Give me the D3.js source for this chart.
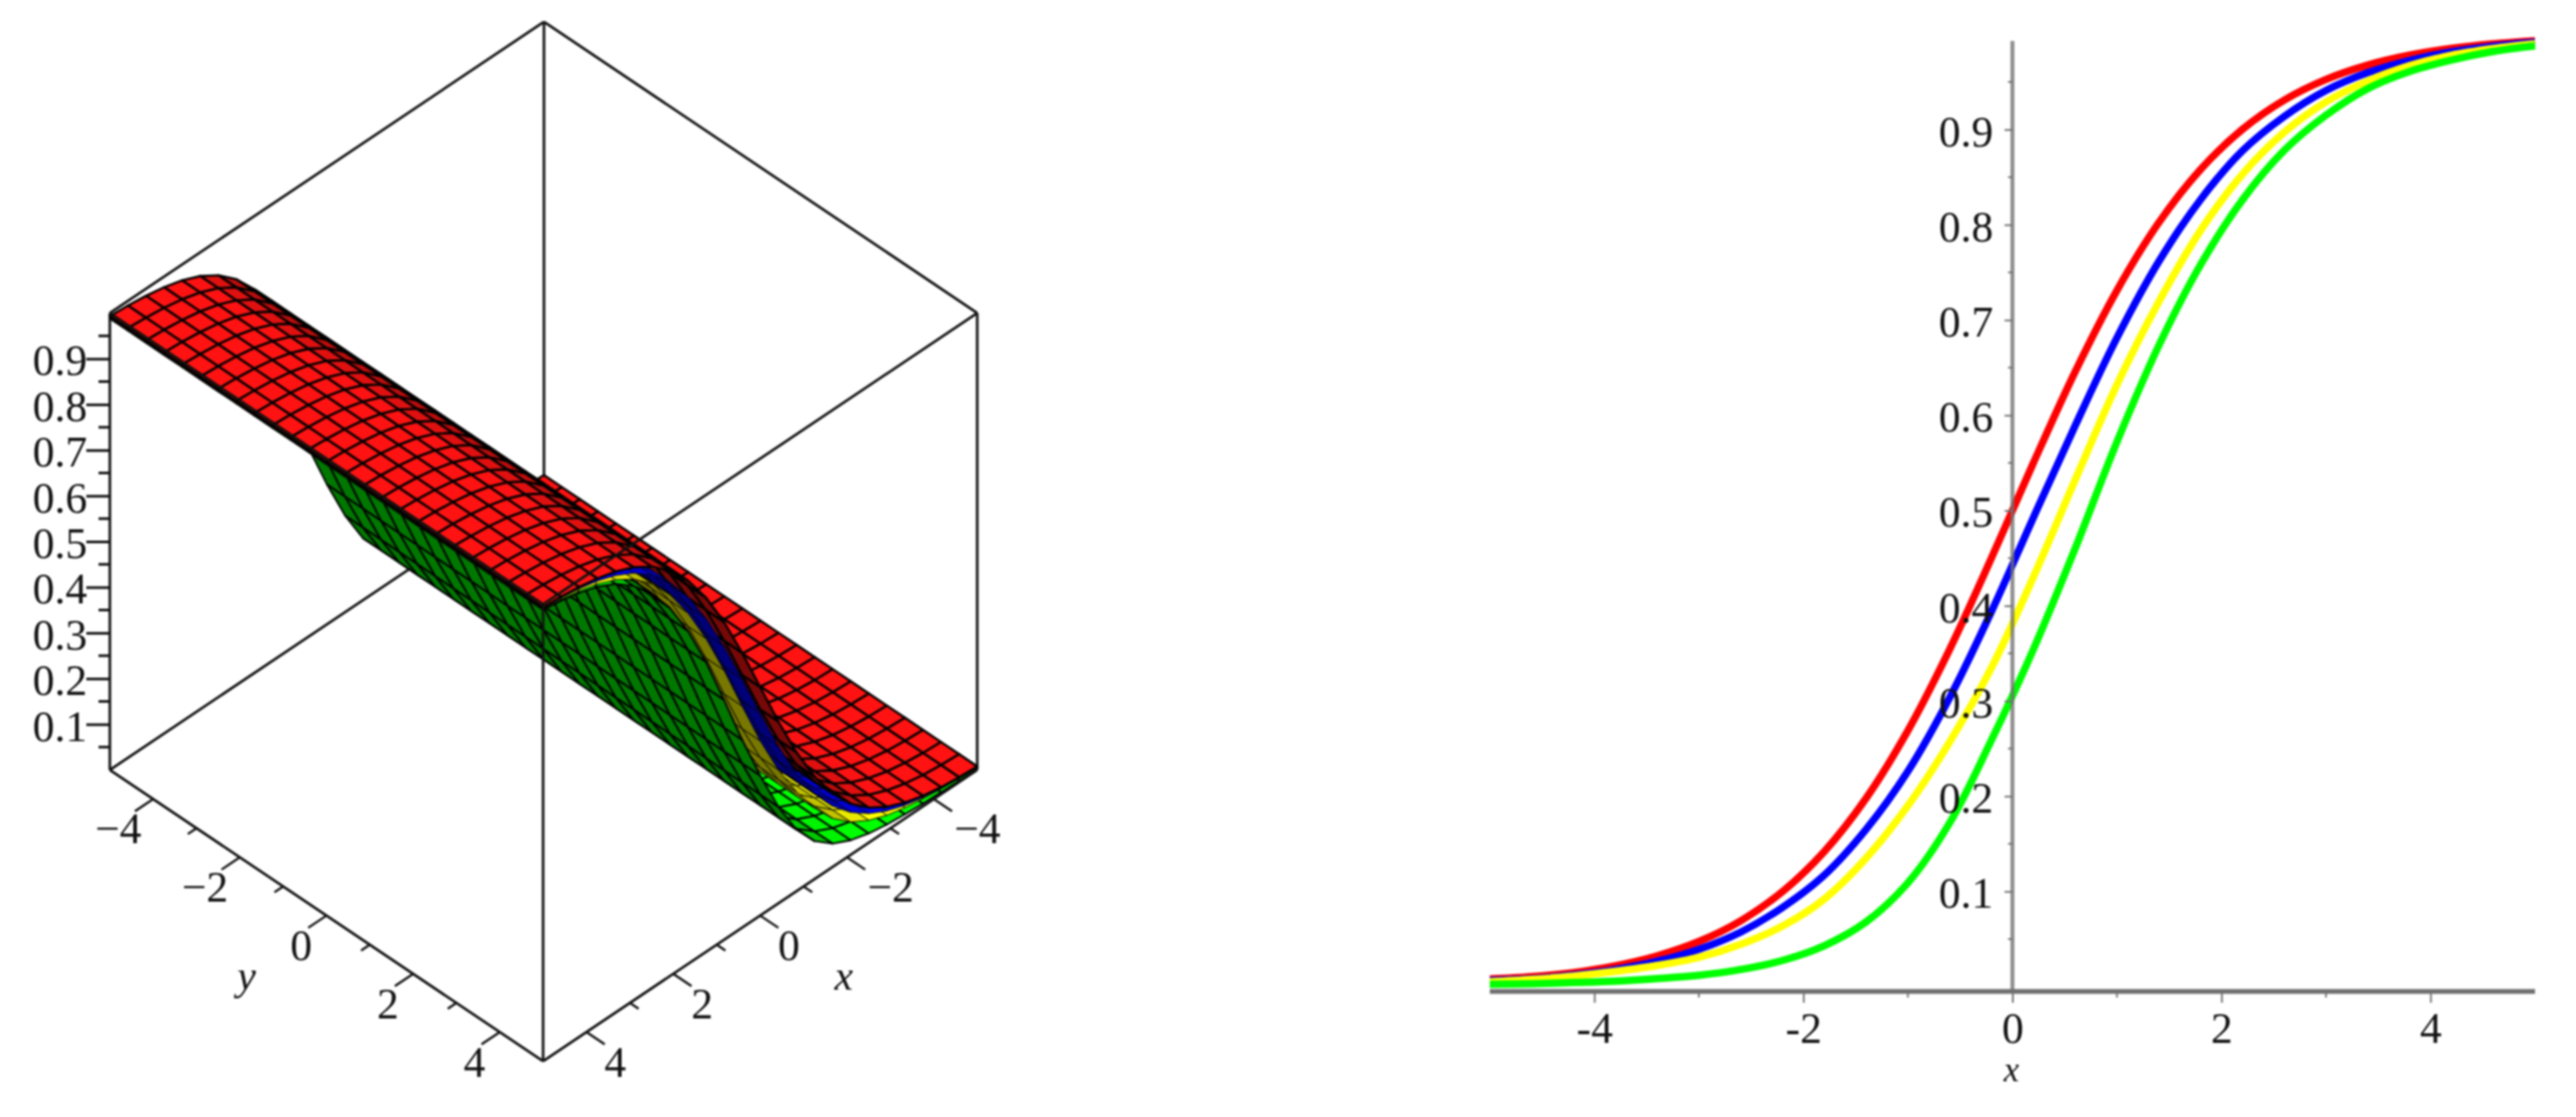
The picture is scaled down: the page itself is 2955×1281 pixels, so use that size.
<!DOCTYPE html>
<html><head><meta charset="utf-8">
<script src="https://cdn.jsdelivr.net/npm/d3@7"></script>
<style>
html,body{margin:0;padding:0;background:#fff}
svg{display:block;filter:blur(1px)}
text{font-family:"Liberation Serif",serif;fill:#111}
</style></head><body>
<svg id="c" width="2955" height="1281"></svg>
<script>
const xValues=[-5,-4.6,-4.2,-3.8,-3.4,-3,-2.6,-2.2,-1.8,-1.4,-1,-0.6,-0.2,0.2,0.6,1,1.4,1.8,2.2,2.6,3,3.4,3.8,4.2,4.6,5];
const redValues=[.008,.0105,.0148,.0219,.0323,.0474,.0691,.0998,.1419,.1978,.2689,.3543,.4502,.5498,.6457,.7311,.8022,.8581,.9002,.9309,.9526,.9677,.9781,.9852,.9900,.9933];
const blueValues=[.0065,.0082,.0121,.018,.0266,.0392,.0573,.0832,.1171,.1652,.2262,.3036,.3941,.4925,.589,.6813,.7613,.8264,.8776,.9137,.941,.9597,.9726,.9815,.9875,.9916];
const yellowValues=[.005,.0075,.011,.016,.0222,.0308,.0444,.0636,.092,.135,.19,.257,.335,.43,.532,.632,.719,.794,.853,.897,.929,.951,.967,.978,.985,.99];
const greenValues=[.0025,.003,.0043,.0058,.0085,.012,.018,.0275,.043,.068,.109,.172,.259,.354,.46,.572,.673,.758,.826,.878,.915,.943,.961,.973,.982,.988];
const seriesColors=["#ff1212","#0000ff","#ffff00","#00ff00"];
const lineColors=["#ff0000","#0000ff","#ffff00","#00ff00"];
const meshWeights=[2.6,0.8,1,2.1];
const seriesValues=[redValues,blueValues,yellowValues,greenValues];
const meshCoords=[-5,-4.5833,-4.1667,-3.75,-3.3333,-2.9167,-2.5,-2.0833,-1.6667,-1.25,-0.8333,-0.4167,0,0.4167,0.8333,1.25,1.6667,2.0833,2.5,2.9167,3.3333,3.75,4.1667,4.5833,5];
const zTicks=[0.1,0.2,0.3,0.4,0.5,0.6,0.7,0.8,0.9];
const zMinor=[0.05,0.15,0.25,0.35,0.45,0.55,0.65,0.75,0.85,0.95];
const xyMajor=[-4,-2,0,2,4];
const xyMinor=[-3,-1,1,3];

const svg=d3.select("#c");
/* ---------- 3D panel ---------- */
const xToSX=d3.scaleLinear([-5,5],[498,0]), yToSX=d3.scaleLinear([-5,5],[0,497]);
const xToSY=d3.scaleLinear([-5,5],[0,334]), yToSY=d3.scaleLinear([-5,5],[0,334]);
const zToSY=d3.scaleLinear([0,1],[0,-524]);
const P=(x,y,z)=>[126+xToSX(x)+yToSX(y),549+xToSY(x)+yToSY(y)+zToSY(z)];
const g3=svg.append("g");
const seg=(g,a,b,w=3,c="#111")=>g.append("line").attr("x1",a[0]).attr("y1",a[1]).attr("x2",b[0]).attr("y2",b[1]).attr("stroke",c).attr("stroke-width",w);

[[[-5,-5,1],[5,-5,1]],[[-5,-5,1],[-5,5,1]],[[-5,-5,1],[-5,-5,0]],[[-5,-5,0],[5,-5,0]],[[-5,-5,0],[-5,5,0]],
 [[5,-5,1],[5,-5,0]],[[-5,5,1],[-5,5,0]]]
 .forEach(([a,b])=>seg(g3,P(...a),P(...b)));

const viewSlope=0.1287;
const surfaces=seriesValues.map(v=>d3.scaleLinear(xValues,v));
const quads=[];
for(let j=0;j<meshCoords.length-1;j++){
  for(let i=0;i<meshCoords.length-1;i++){
    for(let s=surfaces.length-1;s>=0;s--){
      const x0=meshCoords[i],x1=meshCoords[i+1],y0=meshCoords[j],y1=meshCoords[j+1];
      const z0=surfaces[s](x0),z1=surfaces[s](x1);
      const facing=viewSlope-(z1-z0)/(x1-x0);
      const b=facing>0?0.5+0.5*Math.min(1,facing/0.09):0.47;
      quads.push({s,b,pts:[P(x0,y0,z0),P(x1,y0,z1),P(x1,y1,z1),P(x0,y1,z0)]});
    }
  }
}
const quadLine=d3.line().curve(d3.curveLinearClosed);
g3.append("g").selectAll("path").data(quads).join("path")
  .attr("d",d=>quadLine(d.pts))
  .attr("fill",d=>d3.interpolateRgb("#000",seriesColors[d.s])(d.b))
  .attr("stroke","#000").attr("stroke-width",d=>meshWeights[d.s]).attr("stroke-linejoin","round");

[[[5,-5,1],[5,5,1]],[[-5,5,1],[5,5,1]],[[5,5,1],[5,5,0]],[[5,-5,0],[5,5,0]],[[-5,5,0],[5,5,0]]]
 .forEach(([a,b])=>seg(g3,P(...a),P(...b)));

const zAxisScale=d3.scaleLinear([0,1],[883,359]);
const zAxis=g3.append("g").attr("transform","translate(126,0)")
 .call(d3.axisLeft(zAxisScale).tickValues(zTicks).tickSize(27).tickPadding(-1).tickFormat(d3.format(".1f")));
zAxis.select(".domain").remove();
zAxis.selectAll("line").attr("stroke","#111").attr("stroke-width",3);
zAxis.selectAll("text").attr("font-size",50).attr("dy","0.37em").attr("font-family",'"Liberation Serif",serif');
g3.append("g").selectAll("line").data(zMinor).join("line")
 .attr("x1",113).attr("x2",126).attr("y1",zAxisScale).attr("y2",zAxisScale).attr("stroke","#111").attr("stroke-width",3);

const tickIn=(a,b)=>seg(g3,a,b,2.6);
xyMajor.forEach(v=>{tickIn(P(v,5,0),P(v,5.42,0));tickIn(P(5,v,0),P(5.42,v,0));});
xyMinor.forEach(v=>{tickIn(P(v,5,0),P(v,5.2,0));tickIn(P(5,v,0),P(5.2,v,0));});
const fmt=v=>v<0?"\u2212"+(-v):""+v;
g3.append("g").selectAll("text").data(xyMajor).join("text")
 .attr("x",v=>P(v,5,0)[0]+(v<0?50:33)).attr("y",v=>P(v,5,0)[1]+51)
 .attr("text-anchor","middle").attr("font-size",50).text(fmt);
g3.append("g").selectAll("text").data(xyMajor).join("text")
 .attr("x",v=>P(5,v,0)[0]+(v<0?-40:-29)).attr("y",v=>P(5,v,0)[1]+51)
 .attr("text-anchor","middle").attr("font-size",50).text(fmt);
g3.append("text").attr("x",968).attr("y",1135).attr("text-anchor","middle").attr("font-size",48).attr("font-style","italic").text("x");
g3.append("text").attr("x",283).attr("y",1135).attr("text-anchor","middle").attr("font-size",48).attr("font-style","italic").text("y");

/* ---------- 2D panel ---------- */
const x2=d3.scaleLinear([-5,5],[1709,2908]);
const y2=d3.scaleLinear([-0.005,0.993],[1137,47]);
const g2=svg.append("g");
const axisGray="#707070";
const line2=d3.line().x((d,i)=>x2(xValues[i])).y(d=>y2(d)).curve(d3.curveCatmullRom);

g2.append("g").selectAll("path").data(seriesValues).join("path")
 .attr("d",line2).attr("fill","none").attr("stroke",(d,i)=>lineColors[i]).attr("stroke-width",8.5);

const yAxisG=g2.append("g").attr("transform",`translate(${x2(0)},0)`)
 .call(d3.axisLeft(y2).tickValues(zTicks).tickSize(9).tickPadding(13).tickFormat(d3.format(".1f")));
yAxisG.select(".domain").attr("stroke",axisGray).attr("stroke-width",4.5).attr("stroke-opacity",0.8).attr("d",`M0,${y2(0.993)}V${y2(-0.005)}`);
yAxisG.selectAll("line").attr("stroke",axisGray).attr("stroke-width",2);
yAxisG.selectAll("text").attr("font-size",50).attr("dy","0.37em").attr("font-family",'"Liberation Serif",serif');
g2.append("g").selectAll("line").data(zMinor).join("line")
 .attr("x1",x2(0)-5).attr("x2",x2(0)).attr("y1",y2).attr("y2",y2).attr("stroke",axisGray).attr("stroke-width",2);

const xAxisG=g2.append("g").attr("transform",`translate(0,${y2(-0.005)})`)
 .call(d3.axisBottom(x2).tickValues(xyMajor).tickSize(13).tickPadding(0).tickFormat(d=>d));
xAxisG.select(".domain").attr("stroke",axisGray).attr("stroke-width",5.5).attr("d",`M${x2(-5)},0H${x2(5)}`);
xAxisG.selectAll("line").attr("stroke",axisGray).attr("stroke-width",2);
xAxisG.selectAll("text").attr("font-size",50).attr("y",59).attr("dy",0).attr("font-family",'"Liberation Serif",serif').text(d=>d<0?"-"+(-d):d);
g2.append("g").selectAll("line").data(xyMinor).join("line")
 .attr("x1",x2).attr("x2",x2).attr("y1",y2(-0.005)).attr("y2",y2(-0.005)+7).attr("stroke",axisGray).attr("stroke-width",2);

g2.append("text").attr("x",x2(0)-1).attr("y",1240).attr("text-anchor","middle").attr("font-size",40).attr("font-style","italic").text("x");
</script>
</body></html>
